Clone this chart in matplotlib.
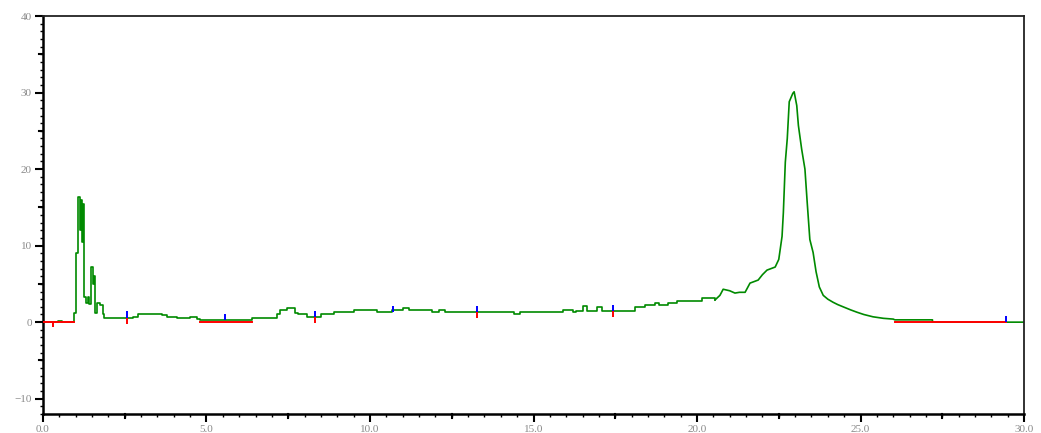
import matplotlib
matplotlib.use("Agg")
import matplotlib.pyplot as plt
from matplotlib.ticker import MultipleLocator, FormatStrFormatter

# detector trace, read as points (retention time in min, signal)
trace_t = [
    0.00, 0.45, 0.58, 0.95, 1.02, 1.08, 1.12, 1.15, 1.18, 1.21, 1.24, 1.30,
    1.37, 1.42, 1.47, 1.52, 1.56, 1.59, 1.66, 1.75, 1.82, 1.88, 2.75, 2.90,
    3.64, 3.80, 4.10, 4.50, 4.70, 4.80, 6.40, 7.15, 7.25, 7.45, 7.70, 7.80,
    8.07, 8.50, 8.90, 9.50, 10.20, 10.67, 11.00, 11.20, 11.90, 12.10, 12.30,
    14.40, 14.60, 15.90, 16.20, 16.30, 16.50, 16.65, 16.95, 17.10, 18.10,
    18.40, 18.70, 18.85, 19.10, 19.40, 20.15, 20.55, 20.70, 20.80, 21.00,
    21.16, 21.30, 21.47, 21.62, 21.87, 22.00, 22.14, 22.39, 22.50, 22.60, 22.64,
    22.70, 22.76, 22.82, 22.93, 22.97, 23.05, 23.10, 23.20, 23.30, 23.37,
    23.45, 23.55, 23.64, 23.74, 23.86, 24.00, 24.16, 24.30, 24.47, 24.70,
    24.89, 25.10, 25.38, 25.70, 26.00, 26.05, 27.20, 27.20, 30.00,
]
trace_v = [
    0.0, 0.2, 0.0, 1.2, 9.0, 16.3, 12.0, 16.0, 10.5, 15.5, 3.3, 2.5,
    3.3, 2.4, 7.2, 5.0, 6.0, 1.2, 2.5, 2.2, 1.0, 0.5, 0.7, 1.0,
    0.9, 0.7, 0.5, 0.7, 0.4, 0.25, 0.5, 1.0, 1.6, 1.8, 1.2, 1.0,
    0.7, 1.0, 1.3, 1.6, 1.35, 1.6, 1.8, 1.6, 1.3, 1.6, 1.3,
    1.0, 1.35, 1.6, 1.3, 1.5, 2.1, 1.5, 2.0, 1.5, 2.0,
    2.2, 2.5, 2.3, 2.5, 2.8, 3.1, 2.9, 3.5, 4.3, 4.1,
    3.8, 3.9, 3.9, 5.1, 5.5, 6.2, 6.8, 7.2, 8.2, 11.2, 14.3,
    20.9, 24.0, 28.8, 29.9, 30.1, 28.3, 25.7, 22.6, 20.0, 15.6,
    10.8, 9.1, 6.6, 4.6, 3.5, 3.0, 2.6, 2.3, 2.0, 1.6,
    1.3, 1.0, 0.7, 0.5, 0.4, 0.3, 0.3, 0.0, 0.0,
]

# integration baselines (start, end) at zero signal
baseline_start = [0.0, 4.8, 26.05]
baseline_end = [0.95, 6.4, 29.45]

# peak start/end markers: time, level, whether a red lower mark is drawn
mark_t = [2.57, 5.57, 8.32, 10.70, 13.27, 17.43, 29.45]
mark_v = [0.6, 0.25, 0.7, 1.35, 1.3, 1.5, 0.0]
mark_red = [True, False, True, False, True, True, False]

fig = plt.figure(figsize=(10.41, 4.33), dpi=100)
ax = fig.add_axes([0.0413, 0.0439, 0.9424, 0.9191])

# flat stretches drawn as steps, the late broad peak as a continuous line
split = trace_t.index(20.55)
ax.plot(trace_t[:split + 1], trace_v[:split + 1], drawstyle="steps-post",
        color="#008a00", lw=1.2, zorder=2)
ax.plot(trace_t[split:], trace_v[split:], color="#008a00", lw=1.2, zorder=2)

for t0, t1 in zip(baseline_start, baseline_end):
    ax.plot([t0, t1], [0, 0], color="#ff0000", lw=1.4, zorder=3)
ax.vlines(0.3, -0.6, 0, color="#ff0000", lw=1.4, zorder=3)

for t, v, red in zip(mark_t, mark_v, mark_red):
    ax.vlines(t, v, v + 0.8, color="#0000ff", lw=1.4, zorder=4)
    if red:
        ax.vlines(t, v - 0.8, v, color="#ff0000", lw=1.4, zorder=4)

ax.set_xlim(0, 30)
ax.set_ylim(-12, 40)

ax.xaxis.set_major_locator(MultipleLocator(5))
ax.xaxis.set_minor_locator(MultipleLocator(0.5))
ax.xaxis.set_major_formatter(FormatStrFormatter("%.1f"))
ax.yaxis.set_major_locator(MultipleLocator(10))
ax.yaxis.set_minor_locator(MultipleLocator(1))

ax.tick_params(which="major", direction="out", length=6, width=1.5,
               labelsize=8, labelcolor="#8a8a8a", pad=2)
ax.tick_params(which="minor", direction="out", length=2.5, width=1.0)
for lab in ax.get_xticklabels() + ax.get_yticklabels():
    lab.set_family("Liberation Serif")

# medium ticks at the half-way positions
for t in [2.5, 7.5, 12.5, 17.5, 22.5, 27.5]:
    ax.plot([t, t], [0, -0.011], transform=ax.get_xaxis_transform(),
            color="black", lw=1.5, clip_on=False)
for v in [-5, 5, 15, 25, 35]:
    ax.plot([0, -0.0045], [v, v], transform=ax.get_yaxis_transform(),
            color="black", lw=1.5, clip_on=False)

for side in ["left", "bottom"]:
    ax.spines[side].set_linewidth(1.8)
for side in ["top", "right"]:
    ax.spines[side].set_linewidth(1.3)
    ax.spines[side].set_color("#222222")

fig.savefig("out.png", dpi=100)
